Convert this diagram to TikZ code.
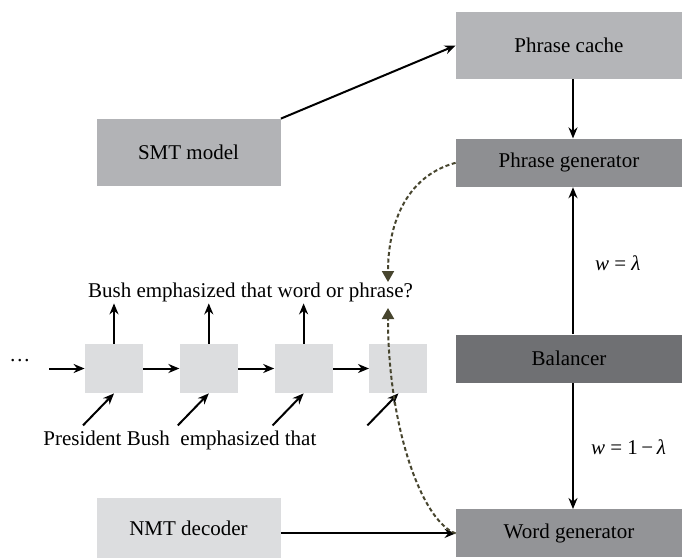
\documentclass[tikz,border=0pt]{standalone}
\usepackage{fontspec}
\setmainfont{Liberation Serif}
\usetikzlibrary{arrows.meta,positioning}

\definecolor{cachegray}{HTML}{B4B5B8}
\definecolor{smtgray}{HTML}{B2B3B6}
\definecolor{gengray}{HTML}{8E8F92}
\definecolor{wordgray}{HTML}{939497}
\definecolor{balgray}{HTML}{6F7073}
\definecolor{cellgray}{HTML}{DCDDDF}
\definecolor{flowcol}{HTML}{47452E}

\begin{document}
\begin{tikzpicture}[
    x=0.5pt, y=-0.5pt,
    font=\rmfamily\fontsize{10.5}{12}\selectfont,
    node distance=18pt,
    module/.style={rectangle, minimum width=113pt, minimum height=24pt, inner sep=0pt, text centered},
    source/.style={rectangle, minimum width=92pt, minimum height=33.5pt, inner sep=0pt, text centered},
    cell/.style={rectangle, minimum width=29pt, minimum height=24.5pt, inner sep=0pt, fill=cellgray},
    arrow/.style={line width=1pt,-{Stealth[length=5.5pt,width=4.5pt]}},
    flow/.style={line width=1pt, dash pattern=on 2pt off 1.3pt, draw=flowcol, -{Triangle[length=5.5pt,width=6pt]}, flowcol},
    weight/.style={anchor=base west}
]
\useasboundingbox (0,0) rectangle (682,559);

% Right column
\node[module, fill=cachegray, minimum height=33.5pt] (cache) at (569,45.5) {Phrase cache};
\node[module, fill=gengray, below=29.5pt of cache] (pgen) {Phrase generator};
\node[module, fill=balgray, below=73.5pt of pgen] (bal) {Balancer};
\node[module, fill=wordgray, below=63pt of bal] (wgen) {Word generator};

% Sources
\node[source, fill=smtgray] (smt) at (188.5,152.5) {SMT model};
\node[source, fill=cellgray, minimum height=30pt] (nmt) at (188.5,528) {NMT decoder};

% Decoder states
\node[cell] (c1) at (114,368.5) {};
\node[cell, right=of c1] (c2) {};
\node[cell, right=of c2] (c3) {};
\node[cell, right=of c3] (c4) {};
\node[anchor=base] (dots) at (20,361) {\dots};
\coordinate (in0) at (49,368.5);

% Words
\node[anchor=base, inner sep=0.5pt] (outtext) at (250.5,297.5) {Bush emphasized that word or phrase?};
\node[anchor=base west, inner sep=0.5pt] (intext) at (42,445.5) {President Bush\ \ emphasized that};
\coordinate (qdown) at (388,282);
\coordinate (qup) at (388,308);

% Arrows
\draw[arrow] (smt.north east) -- (cache.west);
\draw[arrow] ([xshift=2pt]cache.south) -- ([xshift=2pt]pgen.north);
\draw[arrow] ([xshift=2pt]bal.north) -- ([xshift=2pt]pgen.south);
\draw[arrow] ([xshift=2pt]bal.south) -- ([xshift=2pt]wgen.north);
\draw[arrow] (nmt.east |- wgen.west) -- (wgen.west);

\draw[arrow] (in0) -- (c1);
\draw[arrow] (c1) -- (c2);
\draw[arrow] (c2) -- (c3);
\draw[arrow] (c3) -- (c4);

\draw[arrow] (c1.north) -- (c1.north |- outtext.south);
\draw[arrow] (c2.north) -- (c2.north |- outtext.south);
\draw[arrow] (c3.north) -- (c3.north |- outtext.south);

\coordinate (w1) at ([shift={(-31,32)}]c1.south);
\coordinate (w2) at ([shift={(-31,32)}]c2.south);
\coordinate (w3) at ([shift={(-31,32)}]c3.south);
\coordinate (w4) at ([shift={(-31,32)}]c4.south);
\draw[arrow] (w1) -- (c1.south);
\draw[arrow] (w2) -- (c2.south);
\draw[arrow] (w3) -- (c3.south);
\draw[arrow] (w4) -- (c4.south);

% Weights
\node[weight] (wlam) at (588,270.5) {\textit{w} = \textit{λ}};
\node[weight] (wone) at (584,454) {\textit{w} = 1\,−\,\textit{λ}};

% Dashed links
\draw[flow] (pgen.west) .. controls +(-52,14) and +(0,-54) .. (qdown);
\draw[flow] (wgen.west) .. controls +(-34,-12.5) and +(0,118) .. (qup);

\end{tikzpicture}
\end{document}
